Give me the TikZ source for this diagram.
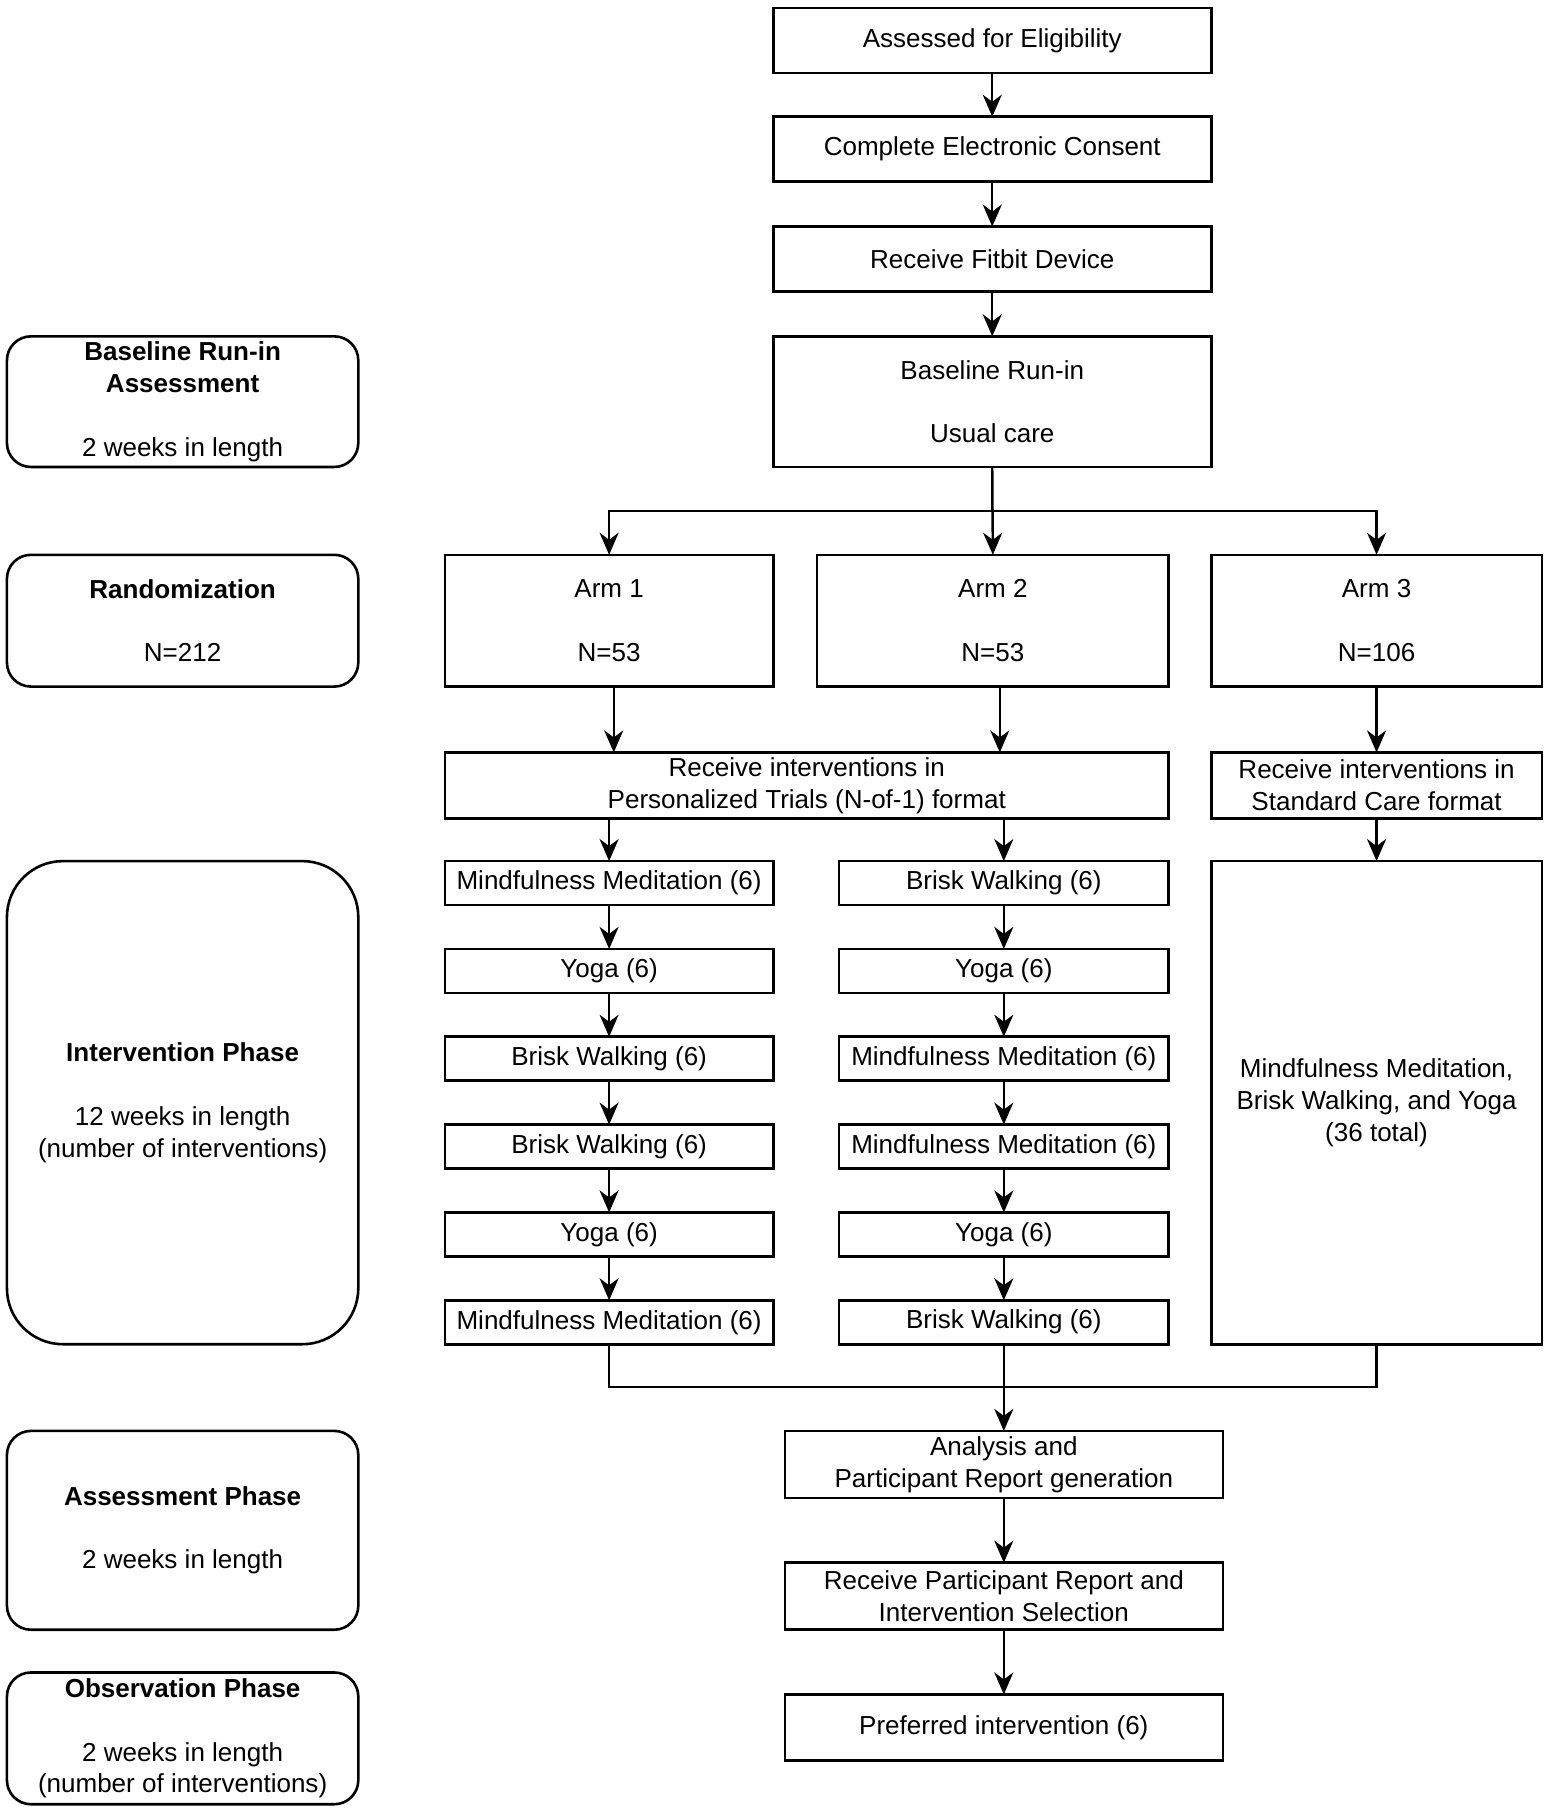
\documentclass[tikz,border=0pt]{standalone}
\usepackage{fontspec}
\setmainfont{Liberation Sans}
\usetikzlibrary{arrows.meta}
\def\pxu{0.5775pt}
\newcommand\bx[7][]{\node[#1, minimum width={(#4-#2)*\pxu}, minimum height={(#5-#3)*\pxu}] (#6) at ({(#2+#4)/2},{(#3+#5)/2}) {#7};}
\begin{document}
\begin{tikzpicture}[x=\pxu, y=-\pxu,
  base/.style={draw, line width=1.3pt, inner sep=0pt, outer sep=0pt, align=center,
    font=\fontsize{13}{15.9}\selectfont},
  sq/.style={base},
  rnd/.style={base, rounded corners=12pt},
  rndbig/.style={base, rounded corners=28pt},
  arr/.style={line width=1.2pt, -{Stealth[length=11pt,width=9.5pt,inset=3.5pt]}},
  ln/.style={line width=1.2pt}]
\useasboundingbox (0,0) rectangle (1338,1566);
% main column
\bx[sq]{669}{7}{1048}{63}{a1}{Assessed for Eligibility}
\bx[sq]{669}{101}{1048}{157}{a2}{Complete Electronic Consent}
\bx[sq]{669}{196}{1048}{252}{a3}{Receive Fitbit Device}
\bx[sq]{669}{291}{1048}{404}{br}{Baseline Run-in\\[15.9pt]Usual care}
% arms
\bx[sq]{385}{480}{669}{594}{arm1}{Arm 1\\[15.9pt]N=53}
\bx[sq]{707}{480}{1011}{594}{arm2}{Arm 2\\[15.9pt]N=53}
\bx[sq]{1048}{480}{1334}{594}{arm3}{Arm 3\\[15.9pt]N=106}
\bx[sq]{385}{651}{1011}{708}{pt}{Receive interventions in\\Personalized Trials (N-of-1) format}
\bx[sq]{1048}{651}{1334}{708}{sc}{Receive interventions in\\Standard Care format}
% column 1
\bx[sq]{385}{745}{669}{783}{c1a}{Mindfulness Meditation (6)}
\bx[sq]{385}{821}{669}{859}{c1b}{Yoga (6)}
\bx[sq]{385}{897}{669}{935}{c1c}{Brisk Walking (6)}
\bx[sq]{385}{973}{669}{1011}{c1d}{Brisk Walking (6)}
\bx[sq]{385}{1049}{669}{1087}{c1e}{Yoga (6)}
\bx[sq]{385}{1125}{669}{1163}{c1f}{Mindfulness Meditation (6)}
% column 2
\bx[sq]{726}{745}{1011}{783}{c2a}{Brisk Walking (6)}
\bx[sq]{726}{821}{1011}{859}{c2b}{Yoga (6)}
\bx[sq]{726}{897}{1011}{935}{c2c}{Mindfulness Meditation (6)}
\bx[sq]{726}{973}{1011}{1011}{c2d}{Mindfulness Meditation (6)}
\bx[sq]{726}{1049}{1011}{1087}{c2e}{Yoga (6)}
\bx[sq]{726}{1125}{1011}{1163}{c2f}{Brisk Walking (6)}
% arm 3 box
\bx[sq]{1048}{745}{1334}{1163}{a3b}{Mindfulness Meditation,\\Brisk Walking, and Yoga\\(36 total)}
% lower column
\bx[sq]{679}{1238}{1058}{1296}{an}{Analysis and\\Participant Report generation}
\bx[sq]{679}{1352}{1058}{1410}{rp}{Receive Participant Report and\\Intervention Selection}
\bx[sq]{679}{1466}{1058}{1523}{pref}{Preferred intervention (6)}
% left phase boxes
\bx[rnd]{6}{291}{310}{404}{lb}{\textbf{Baseline Run-in}\\\textbf{Assessment}\\[15.9pt]2 weeks in length}
\bx[rnd]{6}{480}{310}{594}{lr}{\textbf{Randomization}\\[15.9pt]N=212}
\bx[rndbig]{6}{745}{310}{1163}{li}{\textbf{Intervention Phase}\\[15.9pt]12 weeks in length\\(number of interventions)}
\bx[rnd]{6}{1238}{310}{1410}{la}{\textbf{Assessment Phase}\\[15.9pt]2 weeks in length}
\bx[rnd]{6}{1447}{310}{1561}{lo}{\textbf{Observation Phase}\\[15.9pt]2 weeks in length\\(number of interventions)}
% connectors
\draw[arr] (a1) -- (a2);
\draw[arr] (a2) -- (a3);
\draw[arr] (a3) -- (br);
\draw[arr] (br.south) -- ++(0,38) -| (arm1.north);
\draw[arr] (br.south) -- (arm2.north);
\draw[arr] (br.south) -- ++(0,38) -| (arm3.north);
\draw[arr] ([xshift=4*\pxu]arm1.south) -- ([xshift=4*\pxu]arm1.south |- pt.north);
\draw[arr] ([xshift=6*\pxu]arm2.south) -- ([xshift=6*\pxu]arm2.south |- pt.north);
\draw[arr] (arm3) -- (sc);
\draw[arr] (c1a.north |- pt.south) -- (c1a.north);
\draw[arr] (c2a.north |- pt.south) -- (c2a.north);
\draw[arr] (sc) -- (a3b);
\draw[arr] (c1a) -- (c1b);
\draw[arr] (c1b) -- (c1c);
\draw[arr] (c1c) -- (c1d);
\draw[arr] (c1d) -- (c1e);
\draw[arr] (c1e) -- (c1f);
\draw[arr] (c2a) -- (c2b);
\draw[arr] (c2b) -- (c2c);
\draw[arr] (c2c) -- (c2d);
\draw[arr] (c2d) -- (c2e);
\draw[arr] (c2e) -- (c2f);
\draw[ln] (c1f.south) -- ++(0,37) -| (a3b.south);
\draw[arr] (c2f.south) -- (an.north);
\draw[arr] (an) -- (rp);
\draw[arr] (rp) -- (pref);
\end{tikzpicture}
\end{document}
